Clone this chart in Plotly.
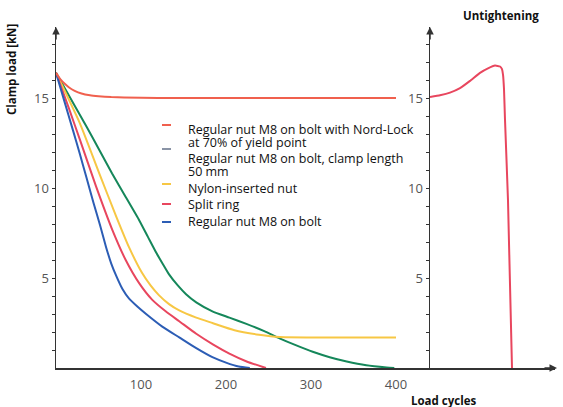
import plotly.graph_objects as go

W, H = 563, 407

# ---- data ----
nord_x = [0, 5, 10, 15, 22, 30, 40, 50, 65, 80, 120, 200, 300, 400]
nord_y = [16.4, 16.05, 15.8, 15.6, 15.4, 15.25, 15.15, 15.1, 15.05, 15.03, 15.0, 15.0, 15.0, 15.0]

clamp50_x = [0, 15, 36, 50, 66, 82, 98, 108, 118, 126, 133, 143, 153, 165, 184, 204, 224, 245, 263, 282, 302, 322, 342, 365, 389, 398]
clamp50_y = [16.4, 15.15, 13.4, 12.2, 10.8, 9.5, 8.2, 7.3, 6.4, 5.75, 5.2, 4.6, 4.1, 3.65, 3.15, 2.8, 2.45, 2.05, 1.65, 1.27, 0.9, 0.6, 0.36, 0.15, 0.03, 0.0]

nylon_x = [0, 28, 51, 71, 86, 101, 111, 121, 133, 145, 165, 184, 210, 239, 263, 300, 400]
nylon_y = [16.4, 13.6, 10.8, 8.4, 6.7, 5.3, 4.6, 4.05, 3.55, 3.2, 2.8, 2.5, 2.1, 1.85, 1.72, 1.7, 1.7]

split_x = [0, 15, 28, 47, 66, 82, 98, 113, 129, 145, 165, 185, 204, 225, 247]
split_y = [16.4, 14.45, 12.7, 10.1, 7.7, 6.0, 4.7, 3.8, 3.15, 2.6, 1.9, 1.3, 0.8, 0.35, 0.0]

plain_x = [0, 10, 20, 28, 36, 44, 52, 59, 65, 71, 78, 86, 96, 106, 125, 145, 165, 184, 200, 215, 228]
plain_y = [16.4, 14.8, 13.2, 11.9, 10.55, 9.2, 7.9, 6.7, 5.8, 5.1, 4.4, 3.85, 3.4, 3.0, 2.3, 1.7, 1.1, 0.6, 0.3, 0.08, 0.0]

untight_x = [0, 10, 20, 30, 40, 50, 58, 65, 70, 72, 73, 74, 75, 78, 82]
untight_y = [15.05, 15.15, 15.3, 15.55, 15.95, 16.4, 16.65, 16.8, 16.75, 16.6, 16.3, 15.5, 13.8, 9.3, 0.0]

legend_labels = [
    ["Regular nut M8 on bolt with Nord-Lock", "at 70% of yield point"],
    ["Regular nut M8 on bolt, clamp length", "50 mm"],
    ["Nylon-inserted nut"],
    ["Split ring"],
    ["Regular nut M8 on bolt"],
]
legend_colors = ["#f0604e", "#8a94a6", "#f7c744", "#e8465e", "#2c5db5"]

x_ticks = [100, 200, 300, 400]
y_ticks = list(range(1, 19))
y_ticktext = [str(v) if v in (5, 10, 15) else "" for v in y_ticks]

# ---- colours ----
C_NORD = "#f0604e"
C_GREEN = "#15875a"
C_YELLOW = "#f7c744"
C_SPLIT = "#e8465e"
C_BLUE = "#2c5db5"
C_AX = "#333333"
FONT = "Open Sans"

def px(v):
    return v / W

def py(v):
    return 1 - v / H

fig = go.Figure()

def add(x, y, color, xa="x", ya="y", sm=0.5):
    fig.add_trace(go.Scatter(x=x, y=y, mode="lines", line=dict(color=color, width=2, shape="spline", smoothing=sm),
                             xaxis=xa, yaxis=ya, showlegend=False, hoverinfo="skip"))

add(clamp50_x, clamp50_y, C_GREEN)
add(nylon_x, nylon_y, C_YELLOW)
add(split_x, split_y, C_SPLIT)
add(plain_x, plain_y, C_BLUE)
add(nord_x, nord_y, C_NORD)
add(untight_x, untight_y, C_SPLIT, "x2", "y2", 0.3)

x0p, xmid, xend = 56, 430, 555
ytop, ybot = 27, 368
ymax = (ybot - ytop) / 18.0
xmax_left = (xmid - x0p) / 0.85

ydom = [py(ybot), py(ytop)]
tickfont = dict(family=FONT, size=13, color="#555555")

common_y = dict(range=[0, ymax], domain=ydom, showgrid=False, zeroline=False, showline=True,
                linecolor=C_AX, linewidth=1.5, tickmode="array", tickvals=y_ticks,
                ticks="outside", ticklen=3, tickcolor=C_AX, tickwidth=1, tickfont=tickfont,
                fixedrange=True, automargin=False)

fig.update_layout(
    width=W, height=H, margin=dict(l=0, r=0, t=0, b=0, autoexpand=False),
    paper_bgcolor="white", plot_bgcolor="rgba(0,0,0,0)",
    font=dict(family=FONT, color="#222"),
    xaxis=dict(domain=[px(x0p), px(xmid)], range=[0, xmax_left], anchor="y", showgrid=False, zeroline=False,
               showline=True, linecolor=C_AX, linewidth=1.5, tickmode="array", tickvals=x_ticks,
               ticks="", tickfont=tickfont, ticklabelstandoff=4, automargin=False, fixedrange=True),
    yaxis=dict(anchor="x", ticktext=y_ticktext, **common_y),
    yaxis3=dict(anchor="x", overlaying="y", ticktext=["" for _ in y_ticks],
                **{**common_y, "ticks": "inside", "showline": False}),
    xaxis2=dict(domain=[px(xmid), px(xend)], range=[0, xend - xmid], anchor="y2", showgrid=False, zeroline=False,
                showline=True, linecolor=C_AX, linewidth=1.5, showticklabels=False, ticks="", automargin=False,
                fixedrange=True),
    yaxis2=dict(anchor="x2", ticktext=y_ticktext, **common_y),
    yaxis4=dict(anchor="x2", overlaying="y2", ticktext=["" for _ in y_ticks],
                **{**common_y, "ticks": "inside", "showline": False}),
)

anns = []
# axis arrows
for xa in (x0p, xmid):
    anns.append(dict(x=px(xa), y=py(ytop), xref="paper", yref="paper", text="", showarrow=True,
                     arrowhead=2, arrowsize=1, arrowwidth=1.5, arrowcolor=C_AX, ax=0, ay=14))
anns.append(dict(x=px(xend + 2), y=py(ybot), xref="paper", yref="paper", text="", showarrow=True,
                 arrowhead=2, arrowsize=1, arrowwidth=1.5, arrowcolor=C_AX, ax=-14, ay=0))

# titles
bold = dict(family=FONT, size=11.5, color="#111")
anns.append(dict(x=px(12), y=py(70), xref="paper", yref="paper", text="<b>Clamp load [kN]</b>",
                 textangle=-90, showarrow=False, font=bold, xanchor="center", yanchor="middle"))
anns.append(dict(x=px(501), y=py(16), xref="paper", yref="paper", text="<b>Untightening</b>",
                 showarrow=False, font=bold, xanchor="center", yanchor="middle"))
anns.append(dict(x=px(443), y=py(400), xref="paper", yref="paper", text="<b>Load cycles</b>",
                 showarrow=False, font=bold, xanchor="center", yanchor="middle"))

# legend (text rows)
row_y = [[129, 143], [158, 172], [188], [204], [221]]
mark_y = [125, 149, 184, 204, 222]
shapes = []
for labels, ys, my, col in zip(legend_labels, row_y, mark_y, legend_colors):
    for t, yy in zip(labels, ys):
        anns.append(dict(x=px(186), y=py(yy), xref="paper", yref="paper", text=t, showarrow=False,
                         xanchor="left", yanchor="middle", font=dict(family=FONT, size=12.5, color="#111")))
    shapes.append(dict(type="line", xref="paper", yref="paper", x0=px(162), x1=px(171), y0=py(my), y1=py(my),
                       line=dict(color=col, width=2)))

fig.update_layout(annotations=anns, shapes=shapes)
fig.write_html("out.html", config={"displayModeBar": False, "staticPlot": True},
               post_script="document.body.style.margin='0px';")
